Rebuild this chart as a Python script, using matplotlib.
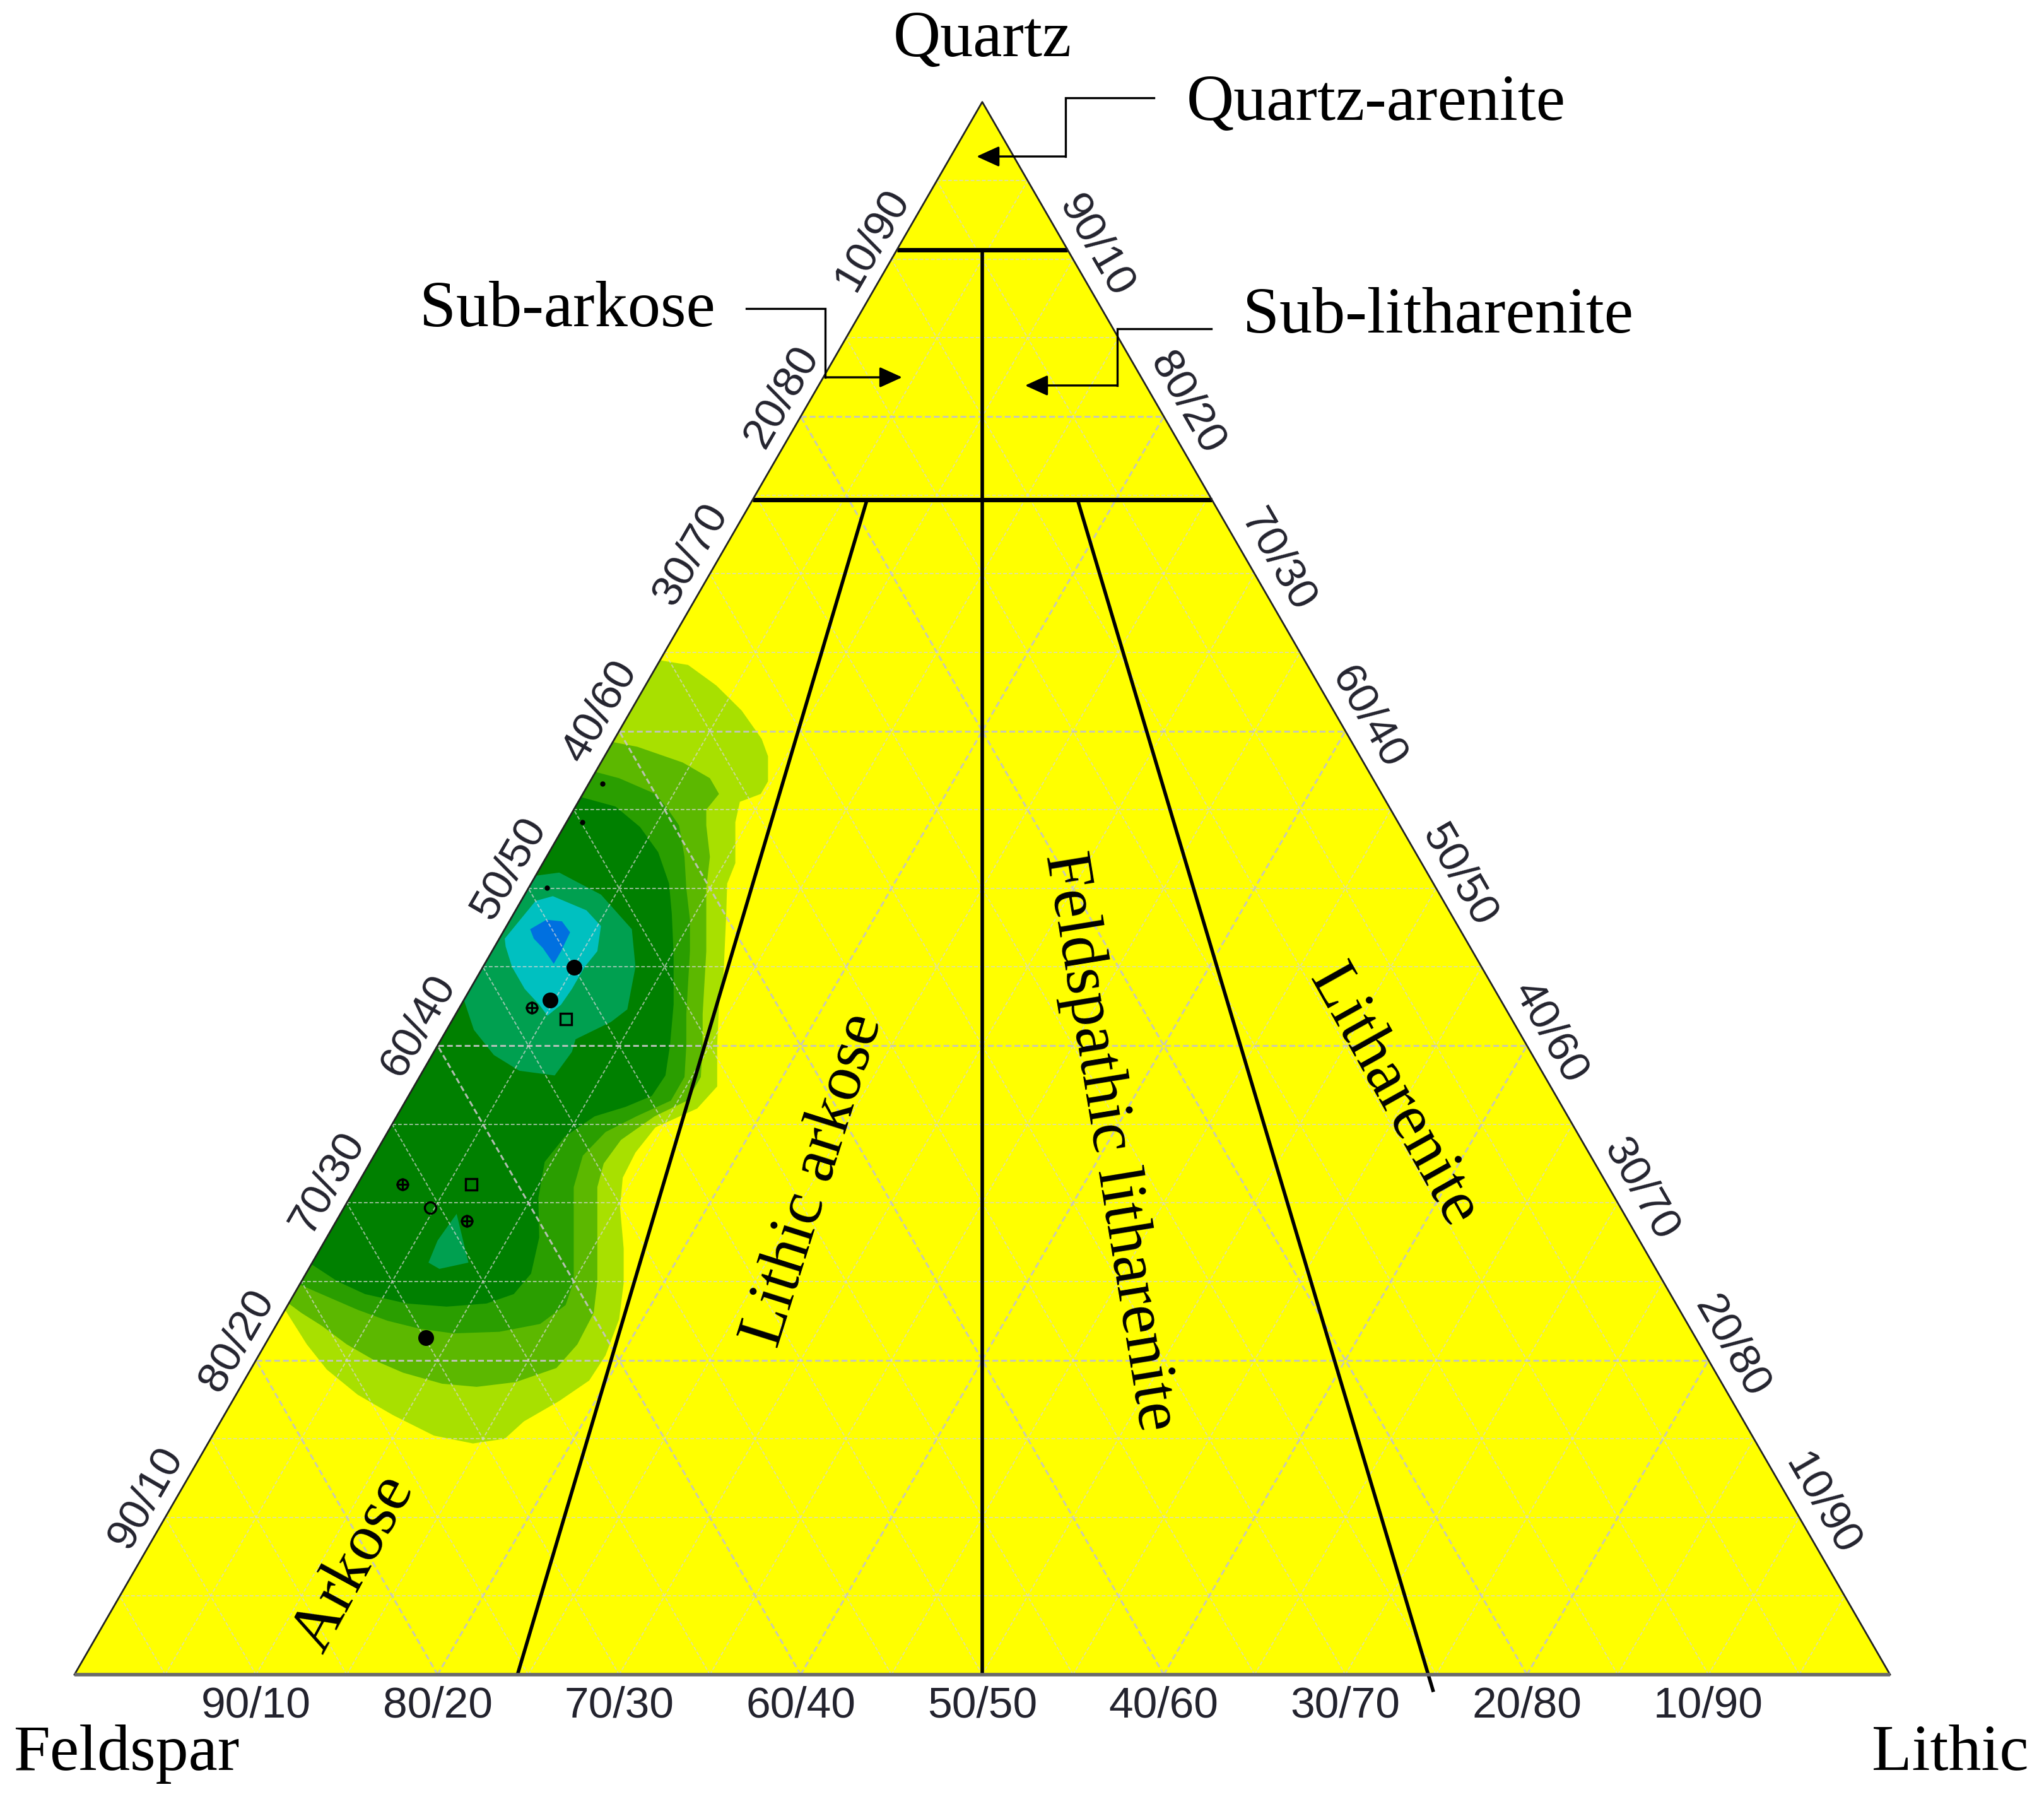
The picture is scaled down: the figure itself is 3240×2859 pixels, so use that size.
import numpy as np
import matplotlib.pyplot as plt

# Folk (1974) QFL diagram with sample density
# all compositions as (quartz %, lithic %); feldspar = 100 - quartz - lithic

# density bands, outer boundary of each level (quartz %, lithic %)
lvl1_q = [64.5, 64.2, 62.9, 61.3, 59.5, 58.4, 56.8, 56.0, 55.5, 54.2, 51.6, 50.3, 48.4, 47.1,
          44.5, 42.6, 40.0, 37.4, 36.0, 34.8, 33.2, 31.6, 29.7, 27.1, 24.9, 22.6, 20.3, 18.7,
          17.4, 16.1, 15.0, 14.7, 15.2, 16.5, 17.8, 19.4, 21.0, 23.2]
lvl1_l = [0.0, 1.7, 3.9, 6.1, 8.1, 9.0, 9.8, 9.8, 8.9, 9.3, 10.6, 10.8, 11.7, 12.3,
          13.5, 14.2, 15.4, 16.7, 16.3, 14.6, 14.3, 14.4, 15.2, 16.7, 17.8, 18.7, 19.1, 19.0,
          18.0, 16.7, 16.2, 14.6, 12.2, 9.3, 6.7, 4.2, 2.3, 0.0]

lvl2_q = [59.3, 59.0, 58.0, 57.0, 56.0, 55.0, 54.0, 52.0, 50.0, 48.0, 46.0, 44.0, 42.0, 40.0,
          38.0, 36.5, 35.5, 34.0, 32.5, 31.0, 29.0, 27.0, 25.0, 23.0, 21.0, 19.5, 18.6, 18.3,
          18.5, 19.2, 20.0, 21.0, 22.2, 23.0, 23.6]
lvl2_l = [0.0, 1.5, 4.5, 6.5, 7.5, 7.3, 7.8, 9.0, 9.8, 10.8, 11.8, 12.7, 13.6, 14.6,
          15.5, 15.5, 14.2, 13.1, 12.9, 13.3, 14.3, 15.3, 16.3, 17.1, 17.2, 16.8, 15.0, 13.0,
          11.0, 8.5, 6.5, 4.5, 2.5, 1.0, 0.0]

lvl3_q = [57.4, 57.0, 56.0, 55.0, 54.0, 52.0, 50.0, 48.0, 46.0, 44.0, 42.0, 40.0, 38.0, 36.5,
          35.5, 34.5, 33.0, 31.0, 29.0, 27.0, 25.0, 23.5, 22.3, 21.8, 21.7, 22.0, 22.5, 23.2,
          24.0, 24.8]
lvl3_l = [0.0, 1.5, 4.0, 5.2, 6.3, 7.6, 8.7, 9.9, 10.9, 11.8, 12.7, 13.7, 14.6, 14.6,
          13.2, 12.0, 11.5, 12.0, 13.0, 14.0, 15.0, 15.3, 14.5, 12.5, 10.0, 8.0, 6.0, 4.0,
          2.0, 0.0]

lvl4_q = [55.8, 55.2, 53.9, 52.3, 50.3, 48.4, 45.8, 42.6, 40.0, 38.1, 36.8, 36.1, 35.5, 34.2,
          32.6, 30.3, 27.8, 25.5, 24.2, 23.6, 23.4, 23.6, 24.2, 25.0, 26.1]
lvl4_l = [0.0, 2.2, 4.2, 6.0, 7.6, 8.7, 10.1, 11.7, 12.8, 13.5, 13.4, 12.3, 10.9, 9.9,
          9.6, 10.4, 11.7, 12.4, 12.1, 10.9, 8.8, 6.5, 3.9, 2.0, 0.0]

lvl5a_q = [50.8, 51.0, 49.6, 47.4, 45.0, 42.3, 41.5, 40.4, 39.6, 38.1, 38.4, 39.4, 41.0, 42.9]
lvl5a_l = [0.0, 1.2, 4.2, 7.0, 8.4, 9.3, 8.8, 7.4, 7.6, 7.4, 5.3, 3.4, 1.5, 0.0]

lvl5b_q = [29.3, 26.2, 25.8, 26.2, 27.6, 28.5]
lvl5b_l = [6.4, 8.6, 7.2, 6.4, 6.2, 6.3]

lvl6_q = [46.8, 49.2, 49.5, 48.6, 47.6, 46.0, 45.0, 43.6, 42.6, 41.9, 42.6, 43.6, 45.0, 46.3]
lvl6_l = [0.3, 0.8, 1.6, 3.9, 5.2, 5.8, 5.6, 5.6, 5.5, 5.1, 4.3, 3.0, 1.6, 0.6]

lvl7_q = [47.4, 48.0, 47.9, 47.2, 46.0, 45.2, 46.2, 46.8]
lvl7_l = [1.4, 2.0, 2.9, 3.7, 3.8, 3.8, 2.7, 1.9]

band_colors = ['#a8e000', '#5cb800', '#2a9e00', '#008000', '#00a050', '#00a050', '#00c0c0', '#0070e0']

# samples
filled_q = [44.96, 42.89, 21.42]
filled_l = [5.04, 4.75, 8.64]
dot_q = [56.65, 54.19, 50.04]
dot_l = [0.76, 0.89, 0.99]
square_q = [41.68, 31.18]
square_l = [6.22, 6.25]
cross_q = [42.42, 31.18, 28.85]
cross_l = [3.99, 2.49, 7.19]
ring_q = [29.71]
ring_l = [4.73]

# Folk class boundaries (quartz %, lithic %) start -> end
bound_lines = [
    ((90.6, 0), (90.6, 9.4)),
    ((74.7, 0), (74.7, 25.3)),
    ((90.6, 4.7), (0, 50)),
    ((74.7, 6.3), (0, 24.4)),
    ((74.7, 17.9), (-1.1, 75.4)),
]

ticks = [10, 20, 30, 40, 50, 60, 70, 80, 90]
bottom_labels = ['90/10', '80/20', '70/30', '60/40', '50/50', '40/60', '30/70', '20/80', '10/90']
left_labels = ['90/10', '80/20', '70/30', '60/40', '50/50', '40/60', '30/70', '20/80', '10/90']
right_labels = ['10/90', '20/80', '30/70', '40/60', '50/50', '60/40', '70/30', '80/20', '90/10']

S3 = np.sqrt(3) / 2


def tern(q, l):
    q = np.asarray(q, float) / 100.
    l = np.asarray(l, float) / 100.
    return l + q / 2., q * S3


fig = plt.figure(figsize=(32.41, 28.59), dpi=100)
ax = fig.add_axes([0, 0, 1, 1])
ax.set_xlim(-118 / 2878., 3123 / 2878.)
ax.set_ylim(-205 / 2878., 2654 / 2878.)
ax.axis('off')

# triangle background
tx, ty = tern([0, 0, 100], [0, 100, 0])
ax.fill(tx, ty, color='#ffff00', lw=0, zorder=0)

# density bands
bands = [(lvl1_q, lvl1_l), (lvl2_q, lvl2_l), (lvl3_q, lvl3_l), (lvl4_q, lvl4_l),
         (lvl5a_q, lvl5a_l), (lvl5b_q, lvl5b_l), (lvl6_q, lvl6_l), (lvl7_q, lvl7_l)]
for (bq, bl), c in zip(bands, band_colors):
    x, y = tern(bq, bl)
    ax.fill(x, y, color=c, lw=0, zorder=1)

# grid every 5 %
for k in range(5, 100, 5):
    major = k % 20 == 0
    kw = dict(color='#c4c4c4' if major else '#d6d6d6', lw=2.2 if major else 1.4,
              alpha=0.9 if major else 0.7, zorder=2, dashes=(3, 1.6))
    x, y = tern([k, k], [0, 100 - k])
    ax.plot(x, y, **kw)
    x, y = tern([0, 100 - k], [k, k])
    ax.plot(x, y, **kw)
    x, y = tern([0, 100 - k], [100 - k, 0])
    ax.plot(x, y, **kw)

# class boundaries
for i, (a, b) in enumerate(bound_lines):
    x, y = tern([a[0], b[0]], [a[1], b[1]])
    ax.plot(x, y, color='black', lw=5.0 if i < 2 else 4.0, zorder=3, solid_capstyle='butt')

# triangle outline
x, y = tern([0, 100, 0], [0, 0, 100])
ax.plot(x, y, color='#222222', lw=2.0, zorder=3)
x, y = tern([0, 0], [0, 100])
ax.plot(x, y, color='#6a6a6a', lw=4.0, zorder=3, solid_capstyle='butt')

# samples
x, y = tern(filled_q, filled_l)
ax.plot(x, y, 'o', ms=17, color='black', zorder=5)
x, y = tern(dot_q, dot_l)
ax.plot(x, y, 'o', ms=5, color='black', zorder=5)
x, y = tern(square_q, square_l)
ax.plot(x, y, 's', ms=13, mfc='none', mec='black', mew=2.4, zorder=5)
x, y = tern(cross_q, cross_l)
ax.plot(x, y, 'o', ms=12, mfc='none', mec='black', mew=2.4, zorder=5)
ax.plot(x, y, '+', ms=15, mec='black', mew=2.2, zorder=5)
x, y = tern(ring_q, ring_l)
ax.plot(x, y, 'o', ms=13, mfc='none', mec='black', mew=2.4, zorder=5)

# axis tick labels
tick_kw = dict(family='Liberation Sans', fontsize=50, color='#23232e', ha='center', va='center')
off = 42 / 2878.
along = 12 / 2878.
for v, lab in zip(ticks, bottom_labels):
    x, y = tern(0, v)
    ax.text(x, y - 50 / 2878., lab, **tick_kw)
for v, lab in zip(ticks, left_labels):
    x, y = tern(v, 0)
    ax.text(x - off * S3 + along * 0.5, y + off * 0.5 + along * S3, lab, rotation=60,
            rotation_mode='anchor', **tick_kw)
for v, lab in zip(ticks, right_labels):
    x, y = tern(v, 100 - v)
    ax.text(x + off * S3, y + off * 0.5, lab, rotation=-60, rotation_mode='anchor', **tick_kw)

# corner and class labels
lab_kw = dict(family='Liberation Serif', fontsize=75, color='black')
ax.text(0.5, 0.8912, 'Quartz', ha='center', va='baseline', **lab_kw)
ax.text(-0.0337, -0.0525, 'Feldspar', ha='left', va='baseline', **lab_kw)
ax.text(1.0764, -0.0525, 'Lithic', ha='right', va='baseline', **lab_kw)
ax.text(0.6126, 0.8562, 'Quartz-arenite', ha='left', va='baseline', **lab_kw)
ax.text(0.2714, 0.7425, 'Sub-arkose', ha='center', va='baseline', **lab_kw)
ax.text(0.6435, 0.739, 'Sub-litharenite', ha='left', va='baseline', **lab_kw)
ax.text(0.4075, 0.2721, 'Lithic arkose', ha='center', va='center', rotation=72.5,
        rotation_mode='anchor', **lab_kw)
ax.text(0.5701, 0.2936, 'Feldspathic litharenite', ha='center', va='center', rotation=-80.7,
        rotation_mode='anchor', **lab_kw)
ax.text(0.7262, 0.3183, 'Litharenite', ha='center', va='center', rotation=-60.8,
        rotation_mode='anchor', **lab_kw)
ax.text(0.1543, 0.0612, 'Arkose', ha='center', va='center', rotation=61.5,
        rotation_mode='anchor', **lab_kw)

# leader arrows for the small top fields
leaders = [
    [(0.5945, 0.8683), (0.5459, 0.8683), (0.5459, 0.8360), (0.4969, 0.8360)],
    [(0.3700, 0.7523), (0.4135, 0.7523), (0.4135, 0.7144), (0.4559, 0.7144)],
    [(0.6262, 0.7412), (0.5742, 0.7412), (0.5742, 0.7099), (0.5236, 0.7099)],
]
for pts in leaders:
    xs = [p[0] for p in pts[:3]]
    ys = [p[1] for p in pts[:3]]
    ax.plot(xs, ys, color='black', lw=2.4, zorder=6, solid_joinstyle='miter')
    ax.annotate('', xy=pts[3], xytext=pts[2],
                arrowprops=dict(arrowstyle='-|>,head_length=1.1,head_width=0.5',
                                mutation_scale=20, color='black', lw=2.4,
                                shrinkA=0, shrinkB=0), zorder=6)

fig.savefig('out.png', dpi=100)
